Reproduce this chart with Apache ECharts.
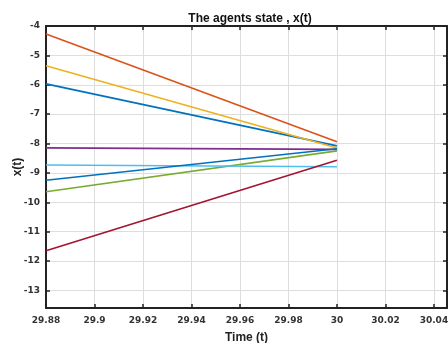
<!DOCTYPE html>
<html><head><meta charset="utf-8">
<script src="https://cdn.jsdelivr.net/npm/echarts@6/dist/echarts.min.js"></script>
<style>html,body{margin:0;padding:0;background:#fff}#c{width:448px;height:343px}</style>
</head><body><div id="c"></div>
<script>
const times = [29.88, 30];
const seriesNames = ['x1','x2','x3','x4','x5','x6','x7','x8'];
const x1 = [-5.97, -8.08];
const x2 = [-4.27, -7.94];
const x3 = [-5.35, -8.15];
const x4 = [-8.15, -8.2];
const x5 = [-9.64, -8.25];
const x6 = [-8.73, -8.79];
const x7 = [-11.65, -8.57];
const x8 = [-9.25, -8.18];
const colors = ['#0072BD','#D95319','#EDB120','#7E2F8E','#77AC30','#4DBEEE','#A2142F','#0072BD'];
const all = [x1,x2,x3,x4,x5,x6,x7,x8];

const font = 'Liberation Sans, Arial, sans-serif';
const tickFont = 'DejaVu Sans, Verdana, sans-serif';
const chart = echarts.init(document.getElementById('c'));
const axisLineStyle = {show:true, lineStyle:{color:'#222', width:2}};
const tickStyle = {show:true, inside:true, length:4, lineStyle:{color:'#222', width:1.5}};
chart.setOption({
  animation:false,
  title:{text:'The agents state , x(t)', left:245, top:8, textAlign:'center',
    textStyle:{fontFamily:font, fontSize:12, fontWeight:'bold', color:'#111'}},
  grid:{left:46, top:26, right:1, bottom:35, containLabel:false, outerBoundsMode:'none'},
  xAxis:[{type:'value', min:29.88, max:30.0454, interval:0.02,
    name:'Time (t)', nameLocation:'middle', nameGap:24, nameMoveOverlap:false,
    nameTextStyle:{fontFamily:font, fontSize:12, fontWeight:'bold', color:'#222'},
    axisLine:axisLineStyle, axisTick:tickStyle,
    axisLabel:{showMaxLabel:false, fontFamily:tickFont, fontSize:9, fontWeight:'bold', color:'#333', margin:8,
      formatter:v=>String(+v.toFixed(2))},
    splitLine:{show:true, lineStyle:{color:'#ddd', width:1}}},
   {type:'value', position:'top', min:29.88, max:30.0454, interval:0.02,
    axisLine:axisLineStyle, axisTick:tickStyle, axisLabel:{show:false}, splitLine:{show:false}}],
  yAxis:[{type:'value', min:-13.6, max:-4, splitNumber:10,
    name:'x(t)', nameLocation:'middle', nameGap:22, nameRotate:90, nameMoveOverlap:false,
    nameTextStyle:{fontFamily:font, fontSize:12, fontWeight:'bold', color:'#222'},
    axisLine:axisLineStyle, axisTick:tickStyle,
    axisLabel:{showMinLabel:false, fontFamily:tickFont, fontSize:9, fontWeight:'bold', color:'#333', margin:6},
    splitLine:{show:true, lineStyle:{color:'#ddd', width:1}}},
   {type:'value', position:'right', min:-13.6, max:-4, splitNumber:10,
    axisLine:axisLineStyle, axisTick:tickStyle, axisLabel:{show:false}, splitLine:{show:false}}],
  series: all.map((arr,i)=>({
    name:seriesNames[i], type:'line', showSymbol:false, symbol:'none',
    data: times.map((t,j)=>[t, arr[j]]),
    lineStyle:{color:colors[i], width:1.6}, itemStyle:{color:colors[i]}
  }))
});
</script></body></html>
